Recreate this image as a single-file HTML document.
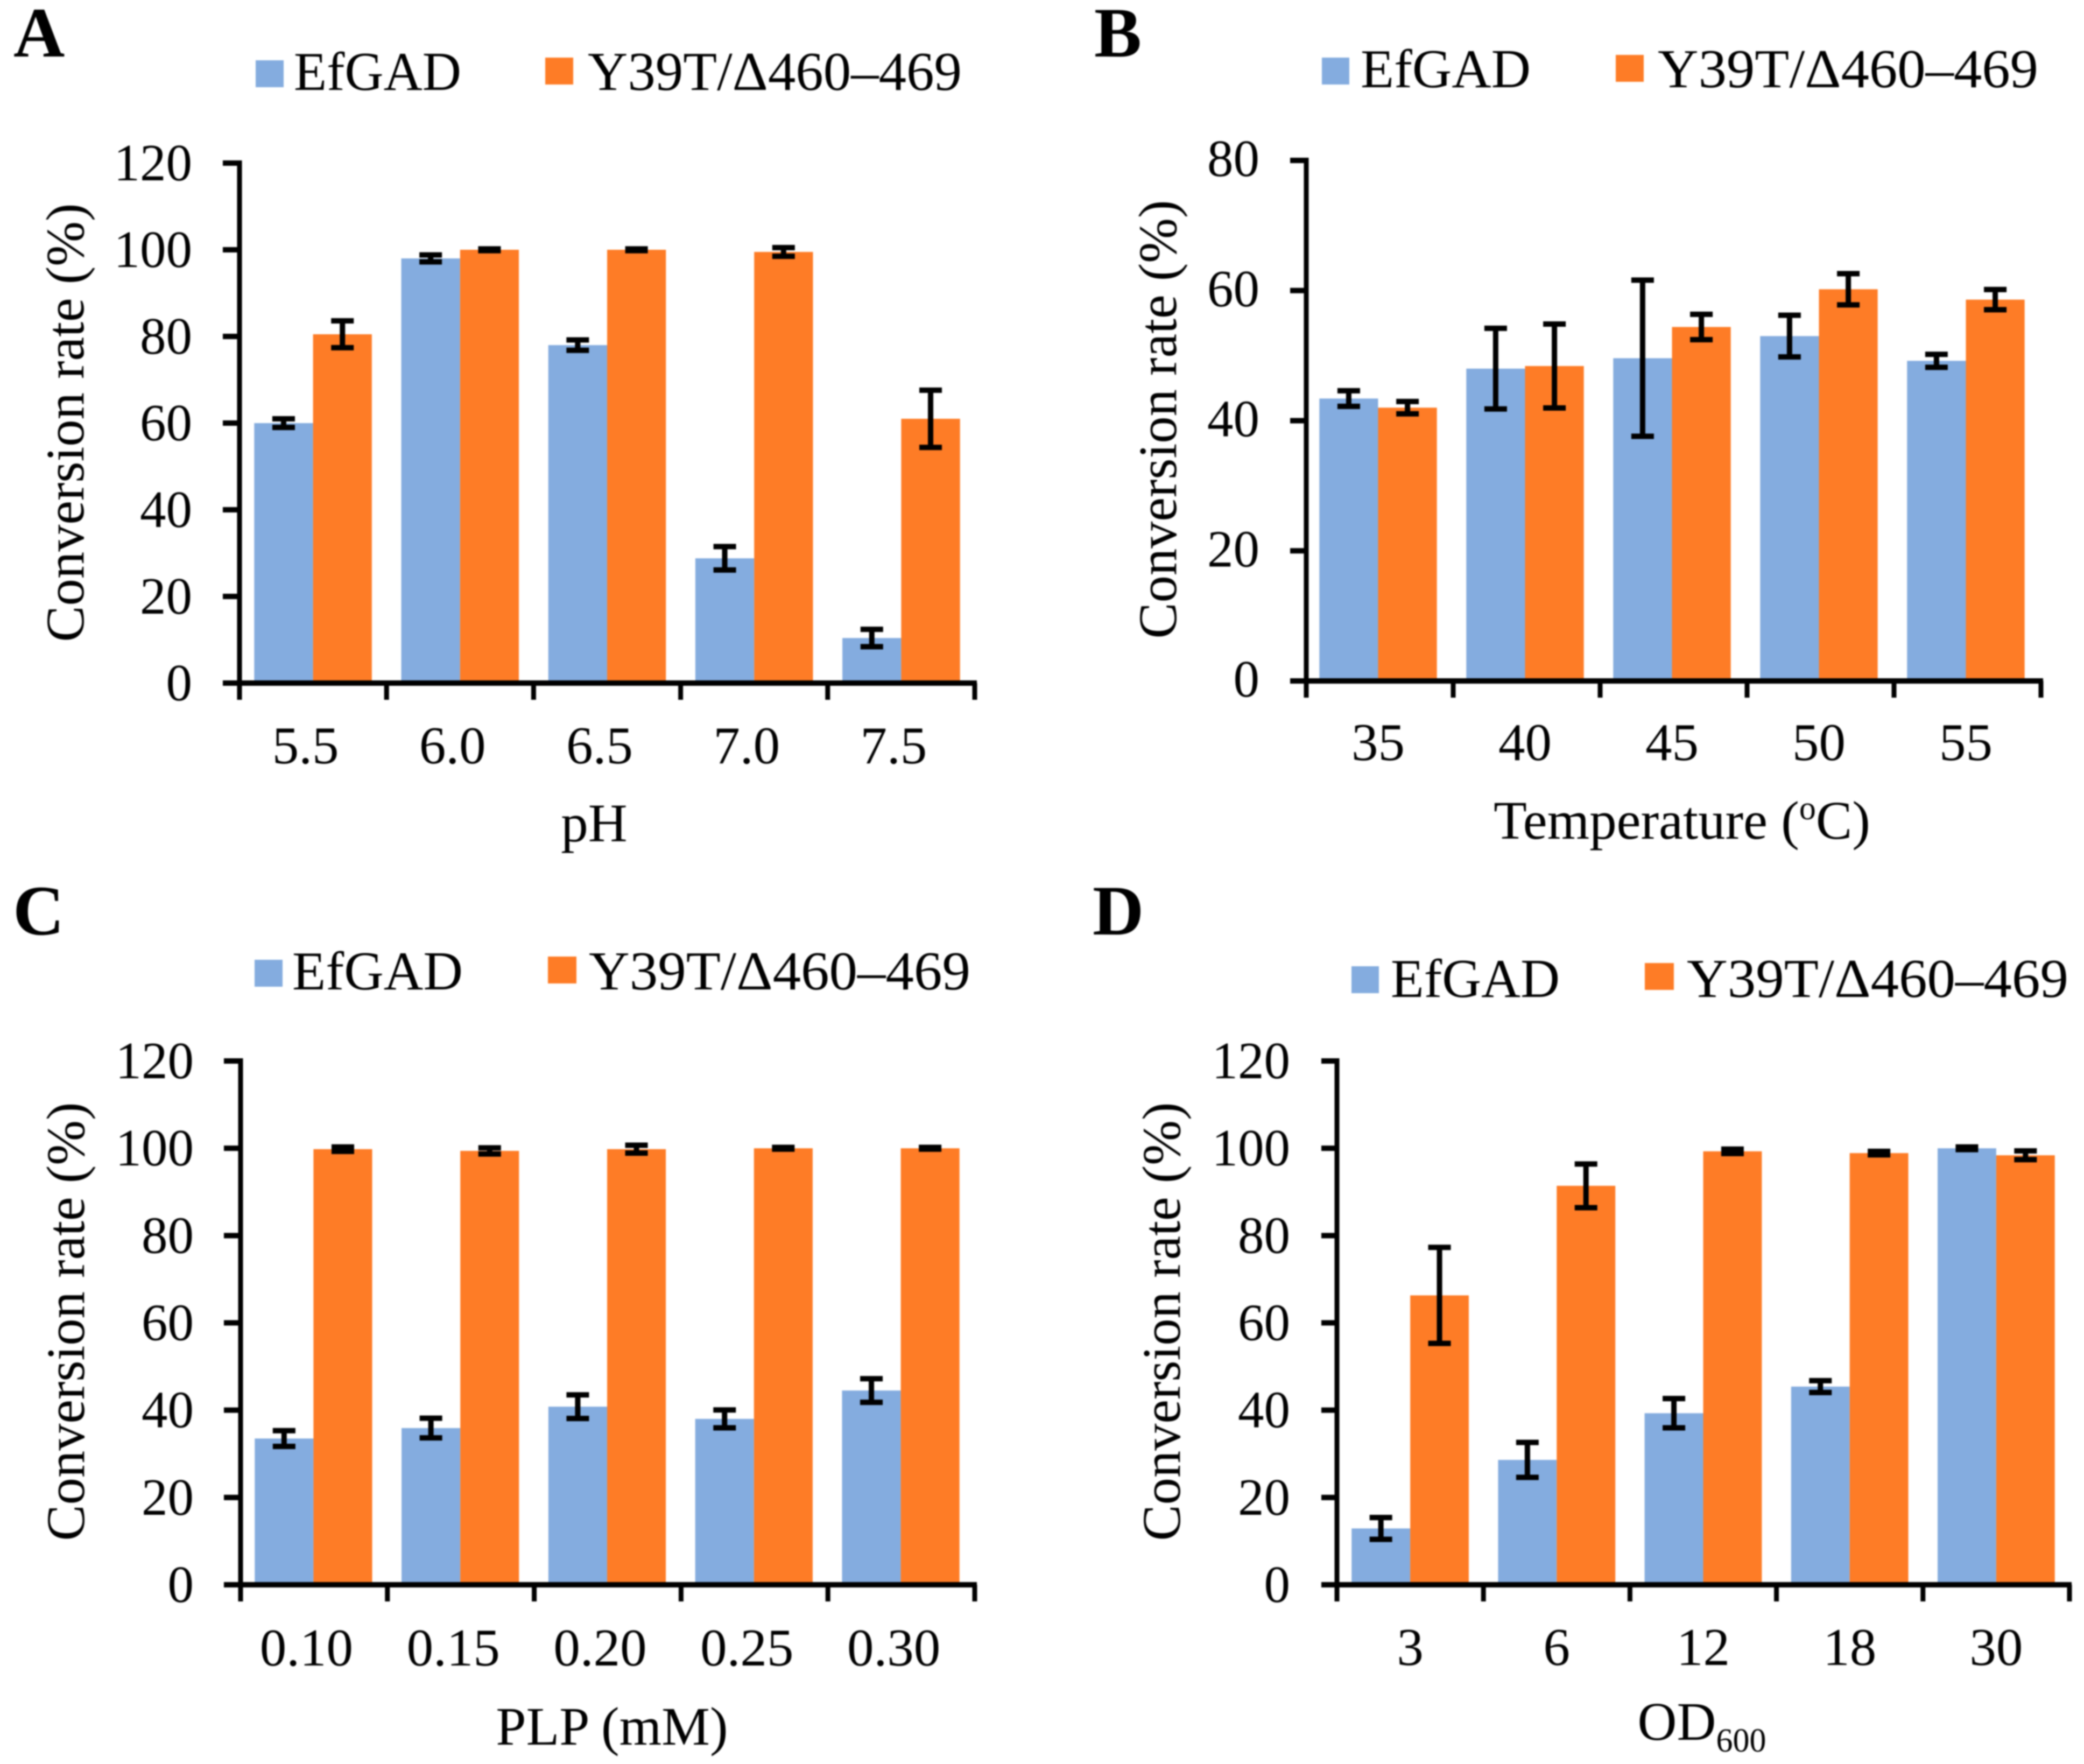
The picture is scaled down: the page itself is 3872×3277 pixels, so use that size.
<!DOCTYPE html>
<html lang="en">
<head>
<meta charset="utf-8">
<title>Conversion rate panels</title>
<style>
html,body{margin:0;padding:0;background:#fff;width:3872px;height:3277px;overflow:hidden}
svg{display:block;filter:blur(1.2px)}
text{font-family:"Liberation Serif",serif;fill:#000}
</style>
</head>
<body>
<svg id="figure" xmlns="http://www.w3.org/2000/svg" width="3872" height="3277" viewBox="0 0 3872 3277"></svg>
<script>
// Series names
const seriesNames = ["EfGAD", "Y39T/Δ460–469"];

// Panel A
const catsA = ["5.5", "6.0", "6.5", "7.0", "7.5"];
const blueA = [60, 98, 78, 28.8, 10.4];
const orangeA = [80.5, 100, 100, 99.5, 61];
const blueErrA = [1, 0.8, 1.2, 2.7, 2];
const orangeErrA = [3.1, 0.2, 0.2, 1, 6.6];
const yTicksA = [0, 20, 40, 60, 80, 100, 120];

// Panel B
const catsB = ["35", "40", "45", "50", "55"];
const blueB = [43.4, 48, 49.6, 53, 49.2];
const orangeB = [42, 48.4, 54.4, 60.2, 58.6];
const blueErrB = [1.2, 6.2, 12, 3.2, 1];
const orangeErrB = [0.95, 6.45, 1.95, 2.4, 1.55];
const yTicksB = [0, 20, 40, 60, 80];

// Panel C
const catsC = ["0.10", "0.15", "0.20", "0.25", "0.30"];
const blueC = [33.5, 35.9, 40.8, 38, 44.5];
const orangeC = [99.8, 99.4, 99.8, 100, 100];
const blueErrC = [1.8, 2.25, 2.7, 2.05, 2.7];
const orangeErrC = [0.5, 0.7, 0.9, 0.2, 0.2];
const yTicksC = [0, 20, 40, 60, 80, 100, 120];

// Panel D
const catsD = ["3", "6", "12", "18", "30"];
const blueD = [12.9, 28.6, 39.3, 45.4, 100];
const orangeD = [66.3, 91.4, 99.3, 98.9, 98.4];
const blueErrD = [2.5, 4, 3.35, 1.35, 0.3];
const orangeErrD = [11, 5, 0.5, 0.4, 1];
const yTicksD = [0, 20, 40, 60, 80, 100, 120];

const BLUE = "#84ACDF";
const ORANGE = "#FE7C26";
const FONT = 99;
const svg = document.getElementById("figure");
const NS = "http://www.w3.org/2000/svg";

function mk(parent, tag, attrs, txt) {
  const el = document.createElementNS(NS, tag);
  for (const k in attrs) el.setAttribute(k, attrs[k]);
  if (txt !== undefined) el.textContent = txt;
  parent.appendChild(el);
  return el;
}

function drawPanel(p) {
  const g = mk(svg, "g", {});
  
  

  const yMax = p.yTicks[p.yTicks.length - 1];
  const yScale = function (v) { return p.zeroY - (v / yMax) * (p.zeroY - p.topY); };
  const catW = (p.rightX - p.axisX) / p.cats.length;
  const xScale = function (i) { return p.axisX + i * catW; };
  const barW = catW * 0.4;
  const sets = [
    { vals: p.blue, errs: p.blueErr, color: BLUE, key: 'efgad', off: 0.1 },
    { vals: p.orange, errs: p.orangeErr, color: ORANGE, key: 'mutant', off: 0.5 }
  ];

  // panel letter
  const letter = mk(g, "text", { x: p.letterX, y: p.letterY, "font-size": 132, "font-weight": "bold" }, p.letter);
  
  

  // legend
  p.legend.forEach(function (l, i) {
    const sw = mk(g, "rect", { x: l.sx, y: l.sy, width: l.sw, height: 50, fill: i === 0 ? BLUE : ORANGE });
    
    
    const t = mk(g, "text", { x: l.tx, y: l.ty, "font-size": 102, textLength: l.tw, lengthAdjust: "spacingAndGlyphs" }, seriesNames[i]);
    
    
  });

  // bars
  sets.forEach(function (s) {
    s.vals.forEach(function (v, i) {
      const x = xScale(i) + s.off * catW + p.barShift;
      const r = mk(g, "rect", { x: x, y: yScale(v), width: barW, height: p.zeroY - yScale(v), fill: s.color });
      
      
    });
  });

  // error bars
  sets.forEach(function (s) {
    s.vals.forEach(function (v, i) {
      const cx = xScale(i) + s.off * catW + p.barShift + barW / 2;
      const top = yScale(v + s.errs[i]);
      const bot = yScale(v - s.errs[i]);
      const e = mk(g, "path", {
        d: "M" + (cx - 21) + " " + top + "H" + (cx + 21) +
           "M" + cx + " " + top + "V" + bot +
           "M" + (cx - 21) + " " + bot + "H" + (cx + 21),
        stroke: "#000", "stroke-width": 10, fill: "none"
      });
      
      
    });
  });

  // axes
  const yAxis = mk(g, "line", { x1: p.axisX, x2: p.axisX, y1: p.topY - 5, y2: p.zeroY + 31, stroke: "#000", "stroke-width": 9 });
  
  
  const xAxis = mk(g, "line", { x1: p.tickLeft, x2: p.rightX + 4, y1: p.zeroY, y2: p.zeroY, stroke: "#000", "stroke-width": 10 });
  
  

  // y ticks and labels
  p.yTicks.forEach(function (v) {
    const tk = mk(g, "line", { x1: p.tickLeft, x2: p.axisX, y1: yScale(v), y2: yScale(v), stroke: "#000", "stroke-width": 10 });
    
    
    const lb = mk(g, "text", { x: p.yLabelX, y: yScale(v) + p.yLabelDy, "font-size": 97, "text-anchor": "end" }, String(v));
    
    
  });

  // x ticks and labels
  p.cats.forEach(function (c, i) {
    const lb = mk(g, "text", { x: xScale(i) + catW / 2 + p.xLabelDx, y: p.xLabelY, "font-size": FONT, "text-anchor": "middle" }, c);
    
    
  });
  for (let i = 0; i <= p.cats.length; i++) {
    const tk = mk(g, "line", { x1: xScale(i), x2: xScale(i), y1: p.zeroY, y2: p.zeroY + 31, stroke: "#000", "stroke-width": 9 });
    
    
  }

  // y title
  const yt = mk(g, "text", {
    x: 0, y: 0, "font-size": 100.5, "text-anchor": "middle",
    transform: "translate(" + p.yTitleX + " " + p.yTitleY + ") rotate(-90)"
  }, "Conversion rate (%)");
  
  

  // x title
  const xt = mk(g, "text", { x: p.xTitleX, y: p.xTitleY, "font-size": 101, "text-anchor": "middle" });
  
  
  p.xTitle.forEach(function (part) {
    const attrs = {};
    if (part.sup) { attrs["font-size"] = 62; attrs.dy = -36; }
    if (part.sub) { attrs["font-size"] = 62; attrs.dy = 22; }
    if (part.back) { attrs.dy = part.back; }
    mk(xt, "tspan", attrs, part.t);
  });
}

drawPanel({
  letter: "A", letterX: 25, letterY: 105, barShift: 0,
  cats: catsA, blue: blueA, orange: orangeA, blueErr: blueErrA, orangeErr: orangeErrA, yTicks: yTicksA,
  axisX: 445, rightX: 1811, topY: 303, zeroY: 1269, tickLeft: 414,
  yLabelX: 357, yLabelDy: 32, xLabelDx: -14, xLabelY: 1418,
  yTitleX: 155, yTitleY: 785, xTitleX: 1104, xTitleY: 1563,
  xTitle: [{ t: "pH" }],
  legend: [
    { sx: 475, sy: 112, sw: 52, tx: 546, ty: 167, tw: 311 },
    { sx: 1013, sy: 107, sw: 52, tx: 1092, ty: 167, tw: 695 }
  ]
});
drawPanel({
  letter: "B", letterX: 2033, letterY: 105, barShift: -3,
  cats: catsB, blue: blueB, orange: orangeB, blueErr: blueErrB, orangeErr: orangeErrB, yTicks: yTicksB,
  axisX: 2427, rightX: 3792, topY: 298, zeroY: 1265, tickLeft: 2397,
  yLabelX: 2340, yLabelDy: 29, xLabelDx: -3, xLabelY: 1412,
  yTitleX: 2185, yTitleY: 779, xTitleX: 3125, xTitleY: 1558,
  xTitle: [{ t: "Temperature (" }, { t: "o", sup: true }, { t: "C)", back: 36 }],
  legend: [
    { sx: 2456, sy: 107, sw: 51, tx: 2528, ty: 162, tw: 316 },
    { sx: 3002, sy: 102, sw: 52, tx: 3080, ty: 162, tw: 707 }
  ]
});
drawPanel({
  letter: "C", letterX: 24, letterY: 1736, barShift: -1,
  cats: catsC, blue: blueC, orange: orangeC, blueErr: blueErrC, orangeErr: orangeErrC, yTicks: yTicksC,
  axisX: 447, rightX: 1811, topY: 1971, zeroY: 2944, tickLeft: 416,
  yLabelX: 360, yLabelDy: 32, xLabelDx: -14, xLabelY: 3094,
  yTitleX: 156, yTitleY: 2455, xTitleX: 1137, xTitleY: 3241,
  xTitle: [{ t: "PLP (mM)" }],
  legend: [
    { sx: 473, sy: 1783, sw: 52, tx: 543, ty: 1838, tw: 317 },
    { sx: 1018, sy: 1777, sw: 53, tx: 1094, ty: 1838, tw: 709 }
  ]
});
drawPanel({
  letter: "D", letterX: 2030, letterY: 1736, barShift: 0,
  cats: catsD, blue: blueD, orange: orangeD, blueErr: blueErrD, orangeErr: orangeErrD, yTicks: yTicksD,
  axisX: 2484, rightX: 3845, topY: 1971, zeroY: 2944, tickLeft: 2455,
  yLabelX: 2397, yLabelDy: 32, xLabelDx: 0, xLabelY: 3093,
  yTitleX: 2192, yTitleY: 2455, xTitleX: 3162, xTitleY: 3232,
  xTitle: [{ t: "OD" }, { t: "600", sub: true }],
  legend: [
    { sx: 2511, sy: 1795, sw: 51, tx: 2584, ty: 1852, tw: 314 },
    { sx: 3056, sy: 1789, sw: 54, tx: 3134, ty: 1852, tw: 709 }
  ]
});
</script>
</body>
</html>
